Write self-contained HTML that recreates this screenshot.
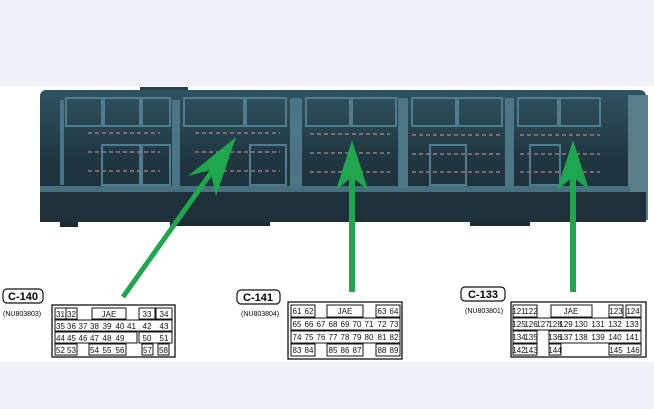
<!DOCTYPE html>
<html><head><meta charset="utf-8"><style>
html,body{margin:0;padding:0;width:654px;height:409px;overflow:hidden;background:#fff}
svg{display:block}
text{font-family:"Liberation Sans",sans-serif;}
.c{font-size:8px;fill:#111;text-anchor:middle}
.b{fill:#fff;stroke:#111;stroke-width:1}
</style></head><body>
<svg width="654" height="409" viewBox="0 0 654 409">
<defs>
<linearGradient id="g" x1="0" y1="0" x2="0" y2="1">
<stop offset="0" stop-color="#2f5360"/><stop offset="0.5" stop-color="#203843"/><stop offset="1" stop-color="#1b2e36"/>
</linearGradient>
</defs>
<rect x="0" y="0" width="654" height="86" fill="#eef1f8"/>
<rect x="0" y="362" width="654" height="47" fill="#eef1f8"/>
<!-- ECU -->
<rect x="140" y="87" width="48" height="8" fill="#2a4048"/>
<rect x="40" y="90" width="606" height="132" rx="6" fill="url(#g)"/>
<rect x="628" y="95" width="20" height="125" fill="#5a7d8a"/>
<rect x="40" y="192" width="606" height="30" fill="#1e313a"/>
<rect x="40" y="186" width="590" height="6" fill="#46707f"/>
<rect x="60" y="222" width="18" height="5" fill="#1a2a31"/>
<rect x="170" y="222" width="100" height="4" fill="#1a2a31"/>
<rect x="470" y="222" width="60" height="4" fill="#1a2a31"/>
<g fill="none" stroke="#4f7d8d" stroke-width="2">
<rect x="66" y="98" width="36" height="28"/><rect x="104" y="98" width="36" height="28"/><rect x="142" y="98" width="28" height="28"/>
<rect x="184" y="98" width="60" height="28"/><rect x="246" y="98" width="40" height="28"/>
<rect x="306" y="98" width="44" height="28"/><rect x="352" y="98" width="44" height="28"/>
<rect x="412" y="98" width="44" height="28"/><rect x="458" y="98" width="44" height="28"/>
<rect x="518" y="98" width="40" height="28"/><rect x="560" y="98" width="40" height="28"/>
<rect x="102" y="145" width="38" height="40"/><rect x="142" y="145" width="28" height="40"/>
<rect x="250" y="145" width="36" height="40"/><rect x="430" y="145" width="36" height="40"/>
<rect x="530" y="145" width="30" height="40"/>
</g>
<g fill="#4b7686">
<rect x="172" y="100" width="8" height="88"/><rect x="290" y="98" width="12" height="90"/>
<rect x="398" y="98" width="10" height="90"/><rect x="505" y="98" width="9" height="90"/>
<rect x="60" y="100" width="4" height="85"/>
</g>
<g stroke="#a07878" stroke-width="1.5" stroke-dasharray="4 3">
<line x1="88" y1="133" x2="160" y2="133"/><line x1="195" y1="133" x2="280" y2="133"/>
<line x1="310" y1="134" x2="390" y2="134"/><line x1="412" y1="135" x2="500" y2="135"/><line x1="520" y1="135" x2="600" y2="135"/>
<line x1="88" y1="152" x2="160" y2="152"/><line x1="195" y1="152" x2="280" y2="152"/>
<line x1="310" y1="153" x2="390" y2="153"/><line x1="412" y1="154" x2="500" y2="154"/><line x1="520" y1="154" x2="600" y2="154"/>
<line x1="88" y1="171" x2="160" y2="171"/><line x1="195" y1="171" x2="280" y2="171"/>
<line x1="310" y1="172" x2="390" y2="172"/><line x1="412" y1="172" x2="500" y2="172"/><line x1="520" y1="172" x2="600" y2="172"/>
</g>
<!-- arrows -->
<g fill="#1fa64f" stroke="#1fa64f">
<line x1="123" y1="297" x2="213" y2="170" stroke-width="5"/>
<polygon points="236,137 188,176 210,170 216,196" stroke="none"/>
<line x1="352" y1="292" x2="352" y2="175" stroke-width="6"/>
<polygon points="352,140 336,190 352,177 368,190" stroke="none"/>
<line x1="573" y1="292" x2="573" y2="175" stroke-width="6"/>
<polygon points="573,140 557,190 573,177 589,190" stroke="none"/>
</g>
<!-- labels -->
<rect x="3" y="289" width="40" height="14" rx="4" fill="#fff" stroke="#111" stroke-width="1.2"/>
<text x="23" y="300" font-size="11" font-weight="bold" text-anchor="middle">C-140</text>
<text x="3" y="316" font-size="7">(NU803803)</text>
<rect x="237" y="290" width="43" height="14" rx="4" fill="#fff" stroke="#111" stroke-width="1.2"/>
<text x="258" y="301" font-size="11" font-weight="bold" text-anchor="middle">C-141</text>
<text x="241" y="316" font-size="7">(NU803804)</text>
<rect x="461" y="287" width="44" height="14" rx="4" fill="#fff" stroke="#111" stroke-width="1.2"/>
<text x="483" y="298" font-size="11" font-weight="bold" text-anchor="middle">C-133</text>
<text x="465" y="313" font-size="7">(NU803801)</text>
<!-- C-140 -->
<rect x="52" y="305" width="123" height="52" fill="#fff" stroke="#111" stroke-width="1.3"/>
<rect class="b" x="55" y="308" width="11" height="11"/><text class="c" x="60.5" y="317">31</text>
<rect class="b" x="66" y="308" width="11" height="11"/><text class="c" x="71.5" y="317">32</text>
<rect class="b" x="92" y="308" width="34" height="11"/><text class="c" x="109" y="317">JAE</text>
<rect class="b" x="139" y="308" width="16" height="11"/><text class="c" x="147" y="317">33</text>
<rect class="b" x="156" y="308" width="16" height="11"/><text class="c" x="164" y="317">34</text>
<rect class="b" x="55" y="320" width="117" height="11"/>
<text class="c" x="60.5" y="329">35</text><text class="c" x="71.5" y="329">36</text><text class="c" x="83" y="329">37</text><text class="c" x="94.5" y="329">38</text><text class="c" x="107" y="329">39</text><text class="c" x="120" y="329">40</text><text class="c" x="131.5" y="329">41</text><text class="c" x="147" y="329">42</text><text class="c" x="164" y="329">43</text>
<rect class="b" x="55" y="332" width="82" height="11"/>
<text class="c" x="60.5" y="341">44</text><text class="c" x="71.5" y="341">45</text><text class="c" x="83" y="341">46</text><text class="c" x="94.5" y="341">47</text><text class="c" x="107" y="341">48</text><text class="c" x="120" y="341">49</text>
<rect class="b" x="139" y="332" width="33" height="11"/><text class="c" x="147" y="341">50</text><text class="c" x="164" y="341">51</text>
<rect class="b" x="55" y="344" width="22" height="11"/><text class="c" x="60.5" y="353">52</text><text class="c" x="71.5" y="353">53</text>
<rect class="b" x="89" y="344" width="37" height="11"/><text class="c" x="94.5" y="353">54</text><text class="c" x="107" y="353">55</text><text class="c" x="120" y="353">56</text>
<rect class="b" x="142" y="344" width="11" height="11"/><text class="c" x="147.5" y="353">57</text>
<rect class="b" x="158" y="344" width="11" height="11"/><text class="c" x="163.5" y="353">58</text>
<!-- C-141 -->
<rect x="288" y="302" width="114" height="57" fill="#fff" stroke="#111" stroke-width="1.3"/>
<rect class="b" x="291" y="305" width="24" height="12"/><text class="c" x="297" y="314">61</text><text class="c" x="309" y="314">62</text>
<rect class="b" x="327" y="305" width="36" height="12"/><text class="c" x="345" y="314">JAE</text>
<rect class="b" x="376" y="305" width="24" height="12"/><text class="c" x="382" y="314">63</text><text class="c" x="394" y="314">64</text>
<rect class="b" x="291" y="318" width="109" height="12"/>
<text class="c" x="297" y="327">65</text><text class="c" x="309" y="327">66</text><text class="c" x="321" y="327">67</text><text class="c" x="333" y="327">68</text><text class="c" x="345" y="327">69</text><text class="c" x="357" y="327">70</text><text class="c" x="369" y="327">71</text><text class="c" x="382" y="327">72</text><text class="c" x="394" y="327">73</text>
<rect class="b" x="291" y="331" width="109" height="12"/>
<text class="c" x="297" y="340">74</text><text class="c" x="309" y="340">75</text><text class="c" x="321" y="340">76</text><text class="c" x="333" y="340">77</text><text class="c" x="345" y="340">78</text><text class="c" x="357" y="340">79</text><text class="c" x="369" y="340">80</text><text class="c" x="382" y="340">81</text><text class="c" x="394" y="340">82</text>
<rect class="b" x="291" y="344" width="24" height="12"/><text class="c" x="297" y="353">83</text><text class="c" x="309" y="353">84</text>
<rect class="b" x="327" y="344" width="36" height="12"/><text class="c" x="333" y="353">85</text><text class="c" x="345" y="353">86</text><text class="c" x="357" y="353">87</text>
<rect class="b" x="376" y="344" width="24" height="12"/><text class="c" x="382" y="353">88</text><text class="c" x="394" y="353">89</text>
<!-- C-133 -->
<rect x="511" y="302" width="135" height="55" fill="#fff" stroke="#111" stroke-width="1.3"/>
<rect class="b" x="513" y="305" width="24" height="12"/><text class="c" x="519" y="314">121</text><text class="c" x="531" y="314">122</text>
<rect class="b" x="551" y="305" width="41" height="12"/><text class="c" x="571" y="314">JAE</text>
<rect class="b" x="609" y="305" width="14" height="12"/><text class="c" x="616" y="314">123</text>
<rect class="b" x="626" y="305" width="15" height="12"/><text class="c" x="633" y="314">124</text>
<rect class="b" x="513" y="318" width="128" height="12"/>
<text class="c" x="519" y="327">125</text><text class="c" x="531" y="327">126</text><text class="c" x="543" y="327">127</text><text class="c" x="555" y="327">128</text><text class="c" x="566" y="327">129</text><text class="c" x="581" y="327">130</text><text class="c" x="598" y="327">131</text><text class="c" x="615" y="327">132</text><text class="c" x="632" y="327">133</text>
<rect class="b" x="513" y="331" width="24" height="12"/><text class="c" x="519" y="340">134</text><text class="c" x="531" y="340">135</text>
<rect class="b" x="549" y="331" width="92" height="12"/>
<text class="c" x="555" y="340">136</text><text class="c" x="566" y="340">137</text><text class="c" x="581" y="340">138</text><text class="c" x="598" y="340">139</text><text class="c" x="615" y="340">140</text><text class="c" x="632" y="340">141</text>
<rect class="b" x="513" y="344" width="24" height="11"/><text class="c" x="519" y="353">142</text><text class="c" x="531" y="353">143</text>
<rect class="b" x="549" y="344" width="12" height="11"/><text class="c" x="555" y="353">144</text>
<rect class="b" x="609" y="344" width="32" height="11"/><text class="c" x="616" y="353">145</text><text class="c" x="633" y="353">146</text>
</svg>
</body></html>
